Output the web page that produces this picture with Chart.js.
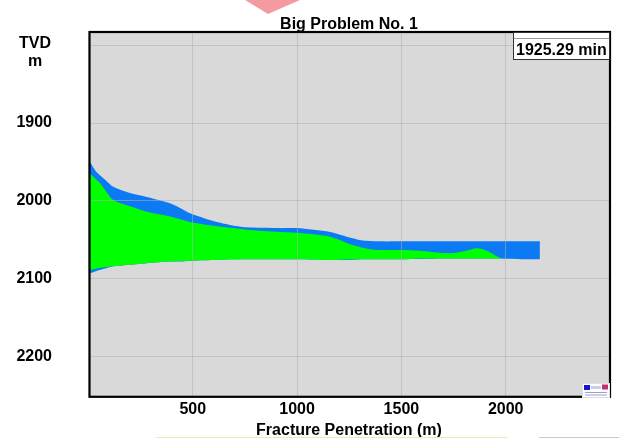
<!DOCTYPE html>
<html><head><meta charset="utf-8">
<script src="https://cdn.jsdelivr.net/npm/chart.js@4.4.1/dist/chart.umd.min.js"></script>
<style>html,body{margin:0;padding:0;background:#fff;}canvas{display:block;}</style>
</head><body>
<canvas id="c" width="619" height="438"></canvas>
<script>
// ---- text ----
const chartTitle = 'Big Problem No. 1';
const timeLabel = '1925.29 min';
const xAxisTitle = 'Fracture Penetration (m)';
const yAxisTitle = ['TVD', 'm'];
// ---- ticks ----
const xTicks = [500, 1000, 1500, 2000];
const yTicks = [1800, 1900, 2000, 2100, 2200];
const yLabelled = [1900, 2000, 2100, 2200];
// ---- blue (total fracture) profile ----
const blueX      = [0, 7, 39, 80, 119, 199, 279, 391, 439, 487, 598, 678, 758, 918, 1000, 1158, 1239, 1316, 1398, 1500, 1700, 1900, 2100, 2164];
const blueTop    = [1946, 1950, 1963, 1973, 1982, 1990, 1995, 2003, 2009, 2016, 2026, 2031, 2034, 2035, 2035, 2040, 2046, 2051, 2052, 2052, 2052, 2052, 2052, 2052];
const blueBottom = [2093, 2093, 2090, 2087, 2084, 2082, 2080, 2078, 2078, 2077, 2076, 2075, 2075, 2075, 2075, 2076, 2076, 2075, 2075, 2075, 2074, 2074, 2075, 2075];
// ---- green (propped) profile ----
const greenX      = [0, 7, 55, 119, 199, 279, 391, 487, 598, 758, 918, 998, 1158, 1270, 1349, 1398, 1509, 1589, 1701, 1749, 1813, 1861, 1909, 1957, 1989];
const greenTop    = [1962, 1965, 1977, 1999, 2007, 2014, 2020, 2027, 2032, 2037, 2040, 2041, 2046, 2057, 2062, 2063, 2063, 2064, 2067, 2067, 2064, 2061, 2064, 2071, 2075];
const greenBottom = [2089, 2089, 2086, 2084, 2082, 2080, 2078, 2077, 2076, 2075, 2075, 2075, 2076, 2075, 2075, 2075, 2075, 2074, 2074, 2074, 2074, 2074, 2074, 2074, 2075];

const pts = (xs, ys) => xs.map((x, i) => ({x: x, y: ys[i]}));
const FONT = "'Liberation Sans', Arial, sans-serif";
const BLUE = '#0c7bf3';
const GREEN = '#00ff00';

const decor = {
  id: 'decor',
  beforeDraw(chart) {
    const {ctx, chartArea: a} = chart;
    ctx.save();
    ctx.fillStyle = '#fff';
    ctx.fillRect(0, 0, chart.width, chart.height);
    ctx.fillStyle = '#d9d9d9';
    ctx.fillRect(a.left, a.top, a.right - a.left, a.bottom - a.top);
    ctx.restore();
  },
  afterDraw(chart) {
    const {ctx} = chart;
    ctx.save();
    // frame
    ctx.strokeStyle = '#000';
    ctx.lineWidth = 2.2;
    ctx.strokeRect(89.5, 32, 520.5, 364.8);
    // time box
    ctx.fillStyle = '#fff';
    ctx.fillRect(513.5, 32.5, 96, 27);
    ctx.strokeStyle = '#9a9a9a';
    ctx.lineWidth = 1;
    ctx.beginPath(); ctx.moveTo(513.5, 38.5); ctx.lineTo(609.5, 38.5); ctx.stroke();
    ctx.strokeStyle = '#333';
    ctx.strokeRect(513.5, 32.5, 96, 27);
    // texts
    ctx.fillStyle = '#000';
    ctx.font = 'bold 16px ' + FONT;
    ctx.textAlign = 'left'; ctx.textBaseline = 'alphabetic';
    ctx.fillText(timeLabel, 516, 55);
    ctx.textAlign = 'center';
    ctx.fillText(chartTitle, 349, 28.5);
    ctx.fillText(xAxisTitle, 349, 435);
    ctx.fillText(yAxisTitle[0], 35, 47.5);
    ctx.fillText(yAxisTitle[1], 35, 66);
    // logo
    ctx.fillStyle = '#fff';
    ctx.fillRect(582, 383, 28, 15);
    ctx.strokeStyle = '#c8c8d8'; ctx.lineWidth = 0.6;
    ctx.strokeRect(582.5, 383.5, 27, 14);
    ctx.fillStyle = '#1515d8'; ctx.fillRect(584, 385, 6, 5);
    ctx.fillStyle = '#c9cdf0'; ctx.fillRect(591, 386, 10, 3);
    ctx.fillStyle = '#c03070'; ctx.fillRect(602, 384.5, 6, 5);
    ctx.fillStyle = '#9aa0c8'; ctx.fillRect(585, 392, 22, 1); ctx.fillRect(585, 394.5, 22, 1);
    // watermark triangle
    ctx.fillStyle = 'rgba(240,120,130,0.75)';
    ctx.beginPath(); ctx.moveTo(245, 0); ctx.lineTo(300, 0); ctx.lineTo(268, 14); ctx.closePath(); ctx.fill();
    // bottom strip lines
    ctx.fillStyle = '#f3e7b8'; ctx.fillRect(156, 437, 351, 1);
    ctx.fillStyle = '#c8c8c8'; ctx.fillRect(539, 437, 80, 1);
    ctx.restore();
  }
};

new Chart(document.getElementById('c'), {
  type: 'line',
  data: {
    datasets: [
      {label: 'green top', data: pts(greenX, greenTop), fill: 1, backgroundColor: GREEN, borderWidth: 0, pointRadius: 0, tension: 0.25, order: 1},
      {label: 'green bottom', data: pts(greenX, greenBottom), fill: false, borderWidth: 0, pointRadius: 0, tension: 0.25, order: 1},
      {label: 'blue top', data: pts(blueX, blueTop), fill: 3, backgroundColor: BLUE, borderWidth: 0, pointRadius: 0, tension: 0.25, order: 2},
      {label: 'blue bottom', data: pts(blueX, blueBottom), fill: false, borderWidth: 0, pointRadius: 0, tension: 0.25, order: 2}
    ]
  },
  options: {
    responsive: false,
    animation: false,
    devicePixelRatio: 1,
    layout: {padding: {top: 32, right: 9, bottom: 0, left: 0}},
    plugins: {legend: {display: false}, tooltip: {enabled: false}, title: {display: false}},
    scales: {
      x: {
        type: 'linear', min: 0, max: 2500,
        afterFit(s) { s.height = 41; s.paddingLeft = 0; s.paddingRight = 0; s.paddingTop = 0; s.paddingBottom = 0; },
        afterBuildTicks(s) { s.ticks = xTicks.map(v => ({value: v})); },
        grid: {color: 'rgba(175,175,175,0.55)', lineWidth: 1, drawTicks: false, z: 1},
        border: {display: false},
        ticks: {color: '#000', font: {family: FONT, size: 16, weight: 'bold'}, padding: 3, maxRotation: 0, autoSkip: false,
          callback: v => String(v)}
      },
      y: {
        type: 'linear', reverse: true, min: 1783, max: 2252,
        afterFit(s) { s.width = 88.5; s.paddingLeft = 0; s.paddingRight = 0; s.paddingTop = 0; s.paddingBottom = 0; },
        afterBuildTicks(s) { s.ticks = yTicks.map(v => ({value: v})); },
        grid: {color: 'rgba(175,175,175,0.55)', lineWidth: 1, drawTicks: false, z: 1},
        border: {display: false},
        ticks: {color: '#000', font: {family: FONT, size: 16, weight: 'bold'}, padding: 36.5, autoSkip: false,
          callback: v => yLabelled.includes(v) ? String(v) : ''}
      }
    }
  },
  plugins: [decor]
});
</script>
</body></html>
